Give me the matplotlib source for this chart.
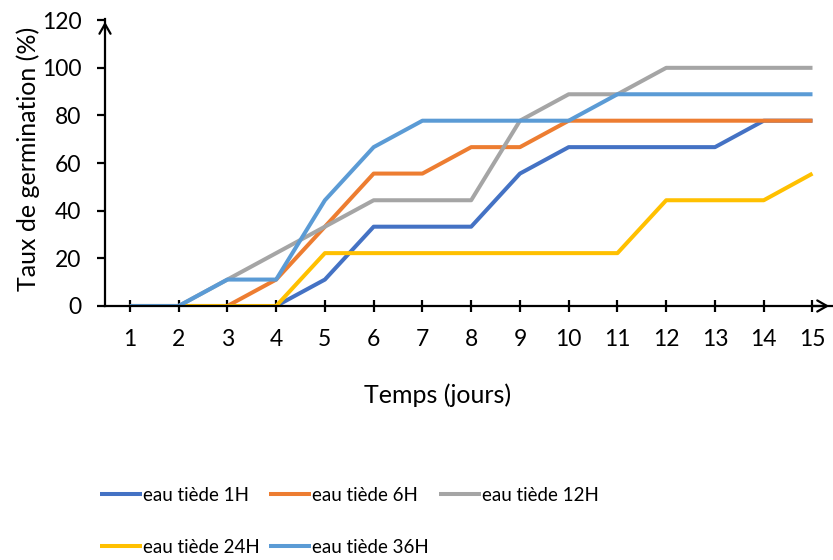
import numpy as np
import matplotlib.pyplot as plt

plt.rcParams['font.family'] = ['Lato', 'DejaVu Sans']

# données
jours = list(range(1, 16))
eau_1h = [0, 0, 0, 0, 11.1, 33.3, 33.3, 33.3, 55.6, 66.7, 66.7, 66.7, 66.7, 77.8, 77.8]
eau_6h = [0, 0, 0, 11.1, 33.3, 55.6, 55.6, 66.7, 66.7, 77.8, 77.8, 77.8, 77.8, 77.8, 77.8]
eau_12h = [0, 0, 11.1, 22.2, 33.3, 44.4, 44.4, 44.4, 77.8, 88.9, 88.9, 100, 100, 100, 100]
eau_24h = [0, 0, 0, 0, 22.2, 22.2, 22.2, 22.2, 22.2, 22.2, 22.2, 44.4, 44.4, 44.4, 55.6]
eau_36h = [0, 0, 11.1, 11.1, 44.4, 66.7, 77.8, 77.8, 77.8, 77.8, 88.9, 88.9, 88.9, 88.9, 88.9]

series = [
    ('eau tiède 1H', eau_1h, '#4472C4'),
    ('eau tiède 6H', eau_6h, '#ED7D31'),
    ('eau tiède 12H', eau_12h, '#A5A5A5'),
    ('eau tiède 24H', eau_24h, '#FFC000'),
    ('eau tiède 36H', eau_36h, '#5B9BD5'),
]

fig = plt.figure(figsize=(8.33, 5.6), dpi=100)
ax = fig.add_axes([105 / 833, 1 - 306 / 560, (832 - 105) / 833, (306 - 19) / 560])

lignes = []
for label, vals, color in series:
    l, = ax.plot(jours, vals, color=color, lw=2.9, label=label, solid_capstyle='butt')
    lignes.append(l)

ax.set_xlim(0.49, 15.4)
ax.set_ylim(0, 120.5)
ax.set_xticks(jours)
ax.set_yticks(range(0, 121, 20))

ax.spines['top'].set_visible(False)
ax.spines['right'].set_visible(False)
ax.spines['left'].set_linewidth(1.6)
ax.spines['bottom'].set_linewidth(1.6)
ax.tick_params(axis='y', direction='out', length=6, width=1.6, labelsize=16.5, pad=11)
ax.tick_params(axis='x', direction='inout', length=9, width=1.6, labelsize=16.5, pad=12)

# flèches au bout des axes
ax.annotate('', xy=(1.0, 0), xytext=(0.97, 0), xycoords='axes fraction',
            arrowprops=dict(arrowstyle='->,head_length=0.7,head_width=0.4', lw=1.6, color='black'),
            annotation_clip=False)
ax.annotate('', xy=(0, 1.0), xytext=(0, 0.95), xycoords='axes fraction',
            arrowprops=dict(arrowstyle='->,head_length=0.7,head_width=0.4', lw=1.6, color='black'),
            annotation_clip=False)

ax.set_xlabel('Temps (jours)', fontsize=18, labelpad=24)
ax.set_ylabel('Taux de germination (%)', fontsize=18, labelpad=1)
ax.xaxis.label.set_x(0.457)
ax.yaxis.label.set_y(0.514)

# légende remplie ligne par ligne comme dans Excel
ordre = [0, 3, 1, 4, 2]
fig.legend([lignes[i] for i in ordre], [series[i][0] for i in ordre],
           loc='upper left', bbox_to_anchor=(100 / 833, 1 - 487 / 560), ncol=3,
           frameon=False, fontsize=13.5, handlelength=2.25, handletextpad=0.05,
           columnspacing=0.5, labelspacing=1.85, borderpad=0, borderaxespad=0)

plt.savefig('out.png', dpi=100)
